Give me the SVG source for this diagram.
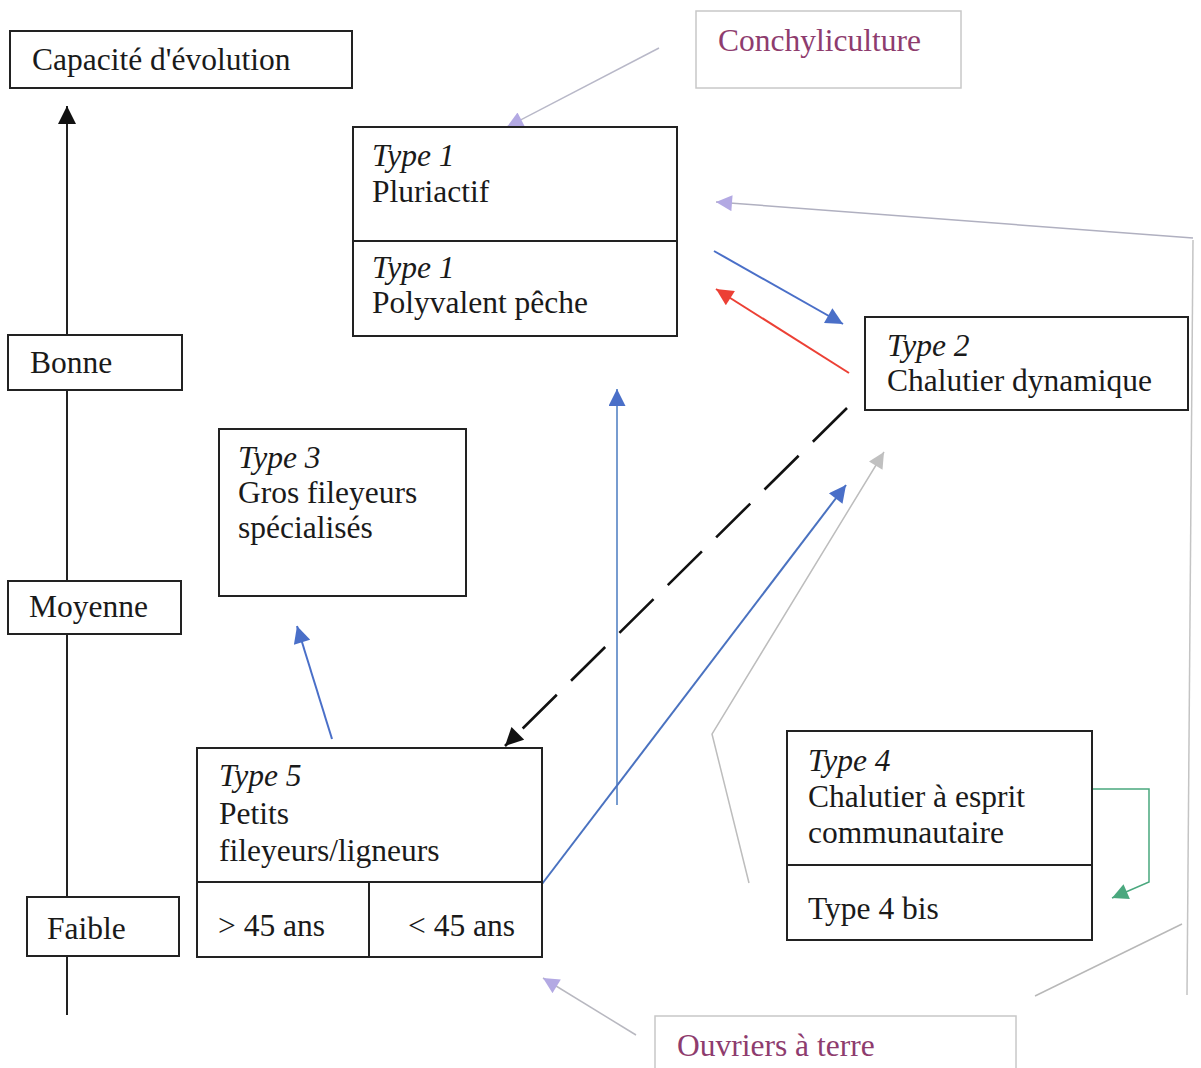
<svg xmlns="http://www.w3.org/2000/svg" width="1201" height="1068" viewBox="0 0 1201 1068">
<style>
  .box{fill:#fff;stroke:#222;stroke-width:2}
  .soft{fill:#fff;stroke:#c8c8c8;stroke-width:1.5}
  .t{font-family:"Liberation Serif","Times New Roman",serif;font-size:31.5px;fill:#1a1a1a}
  .i{font-style:italic}
  .p{fill:#8e3c6e}
  .c{fill:none}
</style>
<defs>
  <marker id="mBlack" viewBox="0 0 10 10" refX="10" refY="5" markerWidth="20" markerHeight="18" markerUnits="userSpaceOnUse" orient="auto"><path d="M0,0 L10,5 L0,10 z" fill="#111"/></marker>
  <marker id="mBlue" viewBox="0 0 10 10" refX="10" refY="5" markerWidth="20" markerHeight="17" markerUnits="userSpaceOnUse" orient="auto"><path d="M0,0 L10,5 L0,10 z" fill="#4a6fc8"/></marker>
  <marker id="mRed" viewBox="0 0 10 10" refX="10" refY="5" markerWidth="20" markerHeight="17" markerUnits="userSpaceOnUse" orient="auto"><path d="M0,0 L10,5 L0,10 z" fill="#ec4035"/></marker>
  <marker id="mLav" viewBox="0 0 10 10" refX="10" refY="5" markerWidth="18" markerHeight="16" markerUnits="userSpaceOnUse" orient="auto"><path d="M0,0 L10,5 L0,10 z" fill="#b3a9e3"/></marker>
  <marker id="mGrey" viewBox="0 0 10 10" refX="10" refY="5" markerWidth="18" markerHeight="16" markerUnits="userSpaceOnUse" orient="auto"><path d="M0,0 L10,5 L0,10 z" fill="#c0c0c0"/></marker>
  <marker id="mGreen" viewBox="0 0 10 10" refX="10" refY="5" markerWidth="18" markerHeight="16" markerUnits="userSpaceOnUse" orient="auto"><path d="M0,0 L10,5 L0,10 z" fill="#4aa87e"/></marker>
</defs>
<rect width="1201" height="1068" fill="#fff"/>

<g id="connectors">
  <line x1="67" y1="335" x2="67" y2="106" stroke="#222" stroke-width="2" marker-end="url(#mBlack)"/>
  <line x1="67" y1="390" x2="67" y2="581" stroke="#222" stroke-width="2"/>
  <line x1="67" y1="634" x2="67" y2="897" stroke="#222" stroke-width="2"/>
  <line x1="67" y1="956" x2="67" y2="1015" stroke="#222" stroke-width="2"/>
  <line x1="659" y1="48" x2="507" y2="127" stroke="#b8b8c8" stroke-width="1.5" marker-end="url(#mLav)"/>
  <polyline class="c" points="1035,996 1182,924" stroke="#b8b8b8" stroke-width="1.5"/>
  <polyline class="c" points="1187,995 1193,240" stroke="#c4c4c4" stroke-width="1.5"/>
  <line x1="1193" y1="238" x2="716" y2="202" stroke="#b0b0c0" stroke-width="1.5" marker-end="url(#mLav)"/>
  <line x1="714" y1="251" x2="843" y2="324" stroke="#4a6fc8" stroke-width="2" marker-end="url(#mBlue)"/>
  <line x1="849" y1="373" x2="716" y2="289" stroke="#ec4035" stroke-width="2" marker-end="url(#mRed)"/>
  <line x1="847" y1="408" x2="505" y2="746" stroke="#111" stroke-width="2.6" stroke-dasharray="48 20" marker-end="url(#mBlack)"/>
  <line x1="617" y1="805" x2="617" y2="389" stroke="#4a7bc0" stroke-width="1.5" marker-end="url(#mBlue)"/>
  <line x1="332" y1="739" x2="297" y2="626" stroke="#4a6fc8" stroke-width="2" marker-end="url(#mBlue)"/>
  <line x1="542" y1="884" x2="846" y2="485" stroke="#4a72c0" stroke-width="2" marker-end="url(#mBlue)"/>
  <polyline class="c" points="749,883 712,734 884,452" stroke="#bdbdbd" stroke-width="1.5" marker-end="url(#mGrey)"/>
  <polyline class="c" points="1092,789 1149,789 1149,882 1112,898" stroke="#4aa87e" stroke-width="1.5" marker-end="url(#mGreen)"/>
  <line x1="636" y1="1035" x2="543" y2="978" stroke="#b8b8c0" stroke-width="1.5" marker-end="url(#mLav)"/>
</g>

<g id="capacite">
  <rect class="box" x="10" y="31" width="342" height="57"/>
  <text class="t" x="32" y="70">Capacité d'évolution</text>
</g>
<g id="bonne">
  <rect class="box" x="8" y="335" width="174" height="55"/>
  <text class="t" x="30" y="373">Bonne</text>
</g>
<g id="moyenne">
  <rect class="box" x="8" y="581" width="173" height="53"/>
  <text class="t" x="29" y="617">Moyenne</text>
</g>
<g id="faible">
  <rect class="box" x="27" y="897" width="152" height="59"/>
  <text class="t" x="47" y="939">Faible</text>
</g>
<g id="conchyliculture">
  <rect class="soft" x="696" y="11" width="265" height="77"/>
  <text class="t p" x="718" y="51">Conchyliculture</text>
</g>
<g id="type1">
  <rect class="box" x="353" y="127" width="324" height="209"/>
  <line x1="353" y1="241" x2="677" y2="241" stroke="#222" stroke-width="2"/>
  <text class="t i" x="372" y="166">Type 1</text>
  <text class="t" x="372" y="202">Pluriactif</text>
  <text class="t i" x="372" y="278">Type 1</text>
  <text class="t" x="372" y="313">Polyvalent pêche</text>
</g>
<g id="type2">
  <rect class="box" x="865" y="317" width="323" height="93"/>
  <text class="t i" x="887" y="356">Type 2</text>
  <text class="t" x="887" y="391">Chalutier dynamique</text>
</g>
<g id="type3">
  <rect class="box" x="219" y="429" width="247" height="167"/>
  <text class="t i" x="238" y="468">Type 3</text>
  <text class="t" x="238" y="503">Gros fileyeurs</text>
  <text class="t" x="238" y="538">spécialisés</text>
</g>
<g id="type5">
  <rect class="box" x="197" y="748" width="345" height="209"/>
  <line x1="197" y1="882" x2="542" y2="882" stroke="#222" stroke-width="2"/>
  <line x1="369" y1="882" x2="369" y2="957" stroke="#222" stroke-width="2"/>
  <text class="t i" x="219" y="786">Type 5</text>
  <text class="t" x="219" y="824">Petits</text>
  <text class="t" x="219" y="861">fileyeurs/ligneurs</text>
  <text class="t" x="218" y="936">&gt; 45 ans</text>
  <text class="t" x="408" y="936">&lt; 45 ans</text>
</g>
<g id="type4">
  <rect class="box" x="787" y="731" width="305" height="209"/>
  <line x1="787" y1="865" x2="1092" y2="865" stroke="#222" stroke-width="2"/>
  <text class="t i" x="808" y="771">Type 4</text>
  <text class="t" x="808" y="807">Chalutier à esprit</text>
  <text class="t" x="808" y="843">communautaire</text>
  <text class="t" x="808" y="919">Type 4 bis</text>
</g>
<g id="ouvriers">
  <rect class="soft" x="655" y="1016" width="361" height="60"/>
  <text class="t p" x="677" y="1056">Ouvriers à terre</text>
</g>
</svg>
